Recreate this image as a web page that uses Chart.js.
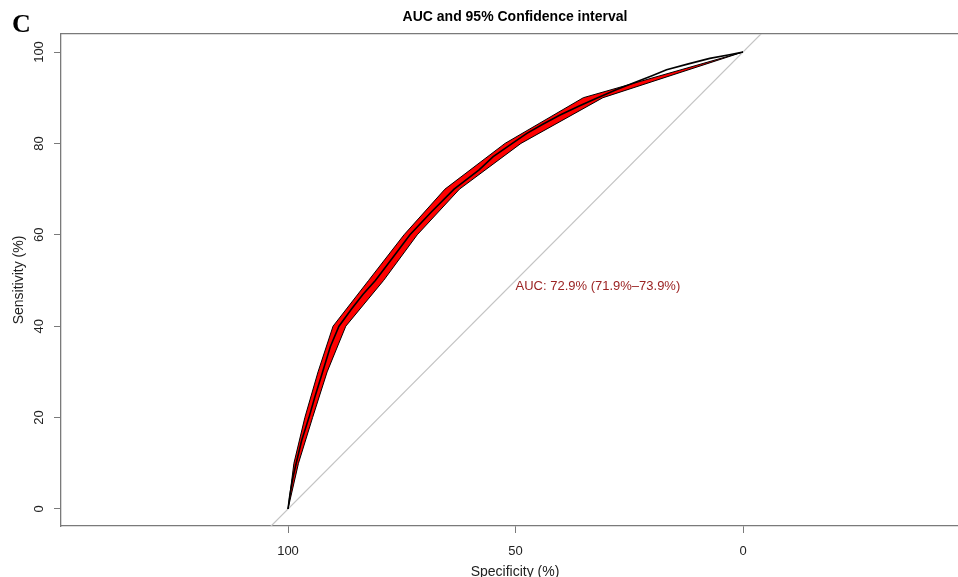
<!DOCTYPE html>
<html>
<head>
<meta charset="utf-8">
<script src="https://cdn.jsdelivr.net/npm/chart.js@4.4.1/dist/chart.umd.min.js"></script>
<style>
  html, body { margin: 0; padding: 0; background: #fff; }
  #wrap { width: 958px; height: 577px; }
</style>
</head>
<body>
<div id="wrap"><canvas id="roc" width="958" height="577"></canvas></div>
<script>
// ROC curve (specificity %, sensitivity %)
const curveSpec = [100, 99.6, 98.9, 98.2, 97, 95.4, 94.1, 92.4, 90.7, 88.8, 86, 83.5, 80.8, 77, 73.2, 68.5, 63.5, 58, 54.9, 50.7, 47.5, 44, 40.2, 36, 32.2, 28, 24.1, 20, 16.8, 12, 7.3, 3, 0];
const curveSens = [0, 3, 7, 10, 15, 20, 24.5, 30, 35.5, 40, 43.8, 47, 50, 55, 60, 65, 70, 74.2, 77.1, 80, 82.2, 84.2, 86.2, 88.2, 89.9, 91.7, 93.2, 94.8, 96.1, 97.4, 98.6, 99.4, 100];

// 95% CI of specificity at fixed sensitivities
const bandSens     = [0, 10, 20, 30, 40, 50, 60, 70, 80, 90, 100];
const bandSpecHigh = [100, 98.7, 96.3, 93.4, 90.1, 82.3, 74.5, 65.5, 52.3, 35.1, 0];
const bandSpecLow  = [100, 97.7, 94.6, 91.4, 87.3, 79.0, 71.6, 62.3, 48.8, 30.8, 0];

const diagSpec = [110, -10];

const xTicks = [100, 50, 0];
const yTicks = [0, 20, 40, 60, 80, 100];

const xMin = -47.25, xMax = 149.89;
const yMin = -3.72, yMax = 103.94;

const panelLetter = 'C';
const titleText = 'AUC and 95% Confidence interval';
const xTitle = 'Specificity (%)';
const yTitle = 'Sensitivity (%)';
const aucText = 'AUC: 72.9% (71.9%\u201373.9%)';

const axisGray = '#7a7a7a';
const sansFont = '"Liberation Sans", Arial, sans-serif';

const bandPoints = bandSens.map((s, i) => ({ x: bandSpecHigh[i], y: s }))
  .concat(bandSens.map((s, i) => ({ x: bandSpecLow[i], y: s })).reverse());

const textPlugin = {
  id: 'rocText',
  afterDraw(chart) {
    const ctx = chart.ctx;
    const xs = chart.scales.x, ys = chart.scales.y;
    ctx.save();
    ctx.fillStyle = '#000';
    ctx.font = 'bold 26px "Liberation Serif", "Times New Roman", serif';
    ctx.textAlign = 'left';
    ctx.textBaseline = 'alphabetic';
    ctx.fillText(panelLetter, 12, 32);

    ctx.font = 'bold 14px ' + sansFont;
    ctx.textAlign = 'center';
    ctx.textBaseline = 'middle';
    ctx.fillText(titleText, 515, 17);

    // y tick labels, rotated like R
    ctx.fillStyle = '#222';
    ctx.font = '13px ' + sansFont;
    yTicks.forEach(v => {
      ctx.save();
      ctx.translate(39.5, ys.getPixelForValue(v));
      ctx.rotate(-Math.PI / 2);
      ctx.fillText(String(v), 0, 0);
      ctx.restore();
    });

    ctx.font = '14px ' + sansFont;
    ctx.save();
    ctx.translate(19, 280);
    ctx.rotate(-Math.PI / 2);
    ctx.fillText(yTitle, 0, 0);
    ctx.restore();
    ctx.fillText(xTitle, 515, 572);

    ctx.fillStyle = '#9b2323';
    ctx.font = '13px ' + sansFont;
    ctx.textAlign = 'left';
    ctx.fillText(aucText, xs.getPixelForValue(50), ys.getPixelForValue(50) + 6);
    ctx.restore();
  }
};

new Chart(document.getElementById('roc'), {
  type: 'line',
  data: {
    datasets: [
      {
        label: 'ROC',
        data: curveSpec.map((s, i) => ({ x: s, y: curveSens[i] })),
        borderColor: '#000',
        borderWidth: 1.6,
        pointRadius: 0,
        tension: 0,
        fill: false,
        xAxisID: 'x', yAxisID: 'y',
        order: 1
      },
      {
        label: 'CI',
        data: bandPoints,
        borderColor: '#000',
        borderWidth: 1,
        backgroundColor: '#ff0000',
        pointRadius: 0,
        tension: 0,
        fill: 'shape',
        xAxisID: 'x', yAxisID: 'y',
        order: 2
      },
      {
        label: 'chance',
        data: diagSpec.map(s => ({ x: s, y: 100 - s })),
        borderColor: '#c4c4c4',
        borderWidth: 1.2,
        pointRadius: 0,
        fill: false,
        xAxisID: 'x', yAxisID: 'y',
        order: 3
      }
    ]
  },
  options: {
    responsive: false,
    animation: false,
    devicePixelRatio: 1,
    layout: { padding: { top: 34, left: 0, right: 0, bottom: 0 } },
    plugins: { legend: { display: false }, tooltip: { enabled: false }, title: { display: false } },
    scales: {
      x: {
        type: 'linear', position: 'bottom', reverse: true, min: xMin, max: xMax,
        afterBuildTicks: s => { s.ticks = xTicks.map(v => ({ value: v })); },
        afterFit: s => { s.height = 51; },
        ticks: { color: '#222', font: { family: sansFont, size: 13 }, padding: 11, maxRotation: 0, autoSkip: false },
        grid: { drawOnChartArea: false, drawTicks: true, tickLength: 7, color: axisGray },
        border: { color: axisGray, width: 1.3 }
      },
      x2: {
        type: 'linear', position: 'top', reverse: true, min: xMin, max: xMax,
        afterFit: s => { s.height = 0; },
        ticks: { display: false },
        grid: { display: false },
        border: { color: axisGray, width: 1.3 }
      },
      y: {
        type: 'linear', position: 'left', min: yMin, max: yMax,
        afterBuildTicks: s => { s.ticks = yTicks.map(v => ({ value: v })); },
        afterFit: s => { s.width = 61; },
        ticks: { display: false },
        grid: { drawOnChartArea: false, drawTicks: true, tickLength: 7, color: axisGray },
        border: { color: axisGray, width: 1.3 }
      }
    }
  },
  plugins: [textPlugin]
});
</script>
</body>
</html>
